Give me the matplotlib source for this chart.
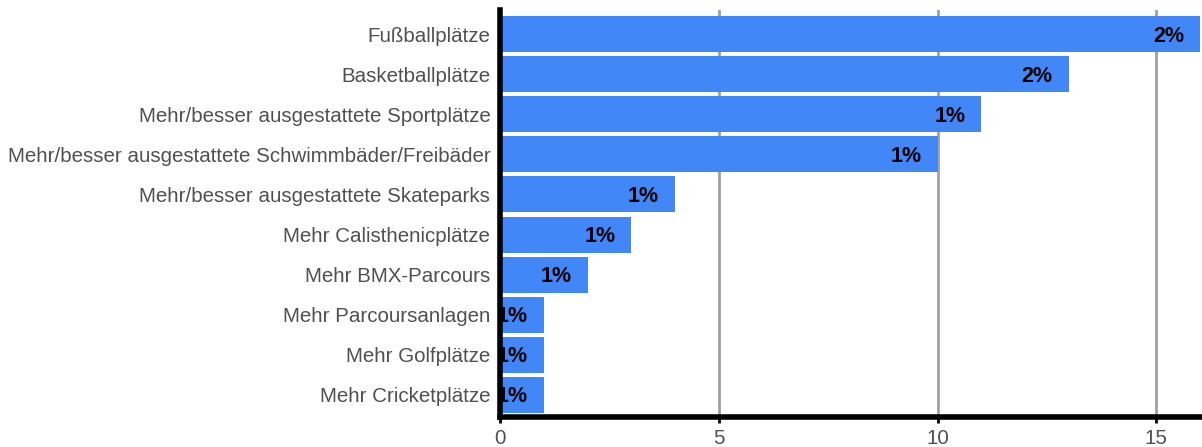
import matplotlib.pyplot as plt

categories = ["Fußballplätze", "Basketballplätze", "Mehr/besser ausgestattete Sportplätze",
              "Mehr/besser ausgestattete Schwimmbäder/Freibäder", "Mehr/besser ausgestattete Skateparks",
              "Mehr Calisthenicplätze", "Mehr BMX-Parcours", "Mehr Parcoursanlagen",
              "Mehr Golfplätze", "Mehr Cricketplätze"]
counts = [16, 13, 11, 10, 4, 3, 2, 1, 1, 1]
labels = ["2%", "2%", "1%", "1%", "1%", "1%", "1%", "1%", "1%", "1%"]
xticks = [0, 5, 10, 15]

plt.rcParams['font.family'] = ['Liberation Sans', 'DejaVu Sans']
fig = plt.figure(figsize=(12.02, 4.47), dpi=100)
ax = fig.add_axes([500/1202, 30/447, 700/1202, 407/447])

y = list(range(len(categories)))
ax.barh(y, counts, height=0.9, color="#4287f7", zorder=2)
for yi, c, l in zip(y, counts, labels):
    ax.annotate(l, (c, yi), xytext=(-16, -2), textcoords="offset pixels",
                ha="right", va="center", fontsize=15.5, fontweight="bold", color="black", zorder=3)

ax.set_yticks(y)
ax.set_yticklabels(categories, fontsize=14.8, color="#505050")
ax.set_ylim(9.55, -0.6)
ax.set_xlim(0, 16)
ax.set_xticks(xticks)
ax.set_xticklabels([str(t) for t in xticks], fontsize=14.8, color="#505050")
ax.tick_params(axis="y", length=0, pad=7)
ax.tick_params(axis="x", length=4, width=2, color="black", pad=5)
ax.grid(axis="x", color="#a0a0a0", linewidth=2, zorder=1)
ax.set_axisbelow(True)
for s in ["top", "right"]:
    ax.spines[s].set_visible(False)
for s in ["left", "bottom"]:
    ax.spines[s].set_linewidth(4)
    ax.spines[s].set_color("black")
    ax.spines[s].set_zorder(5)

fig.savefig("out.png", dpi=100)
